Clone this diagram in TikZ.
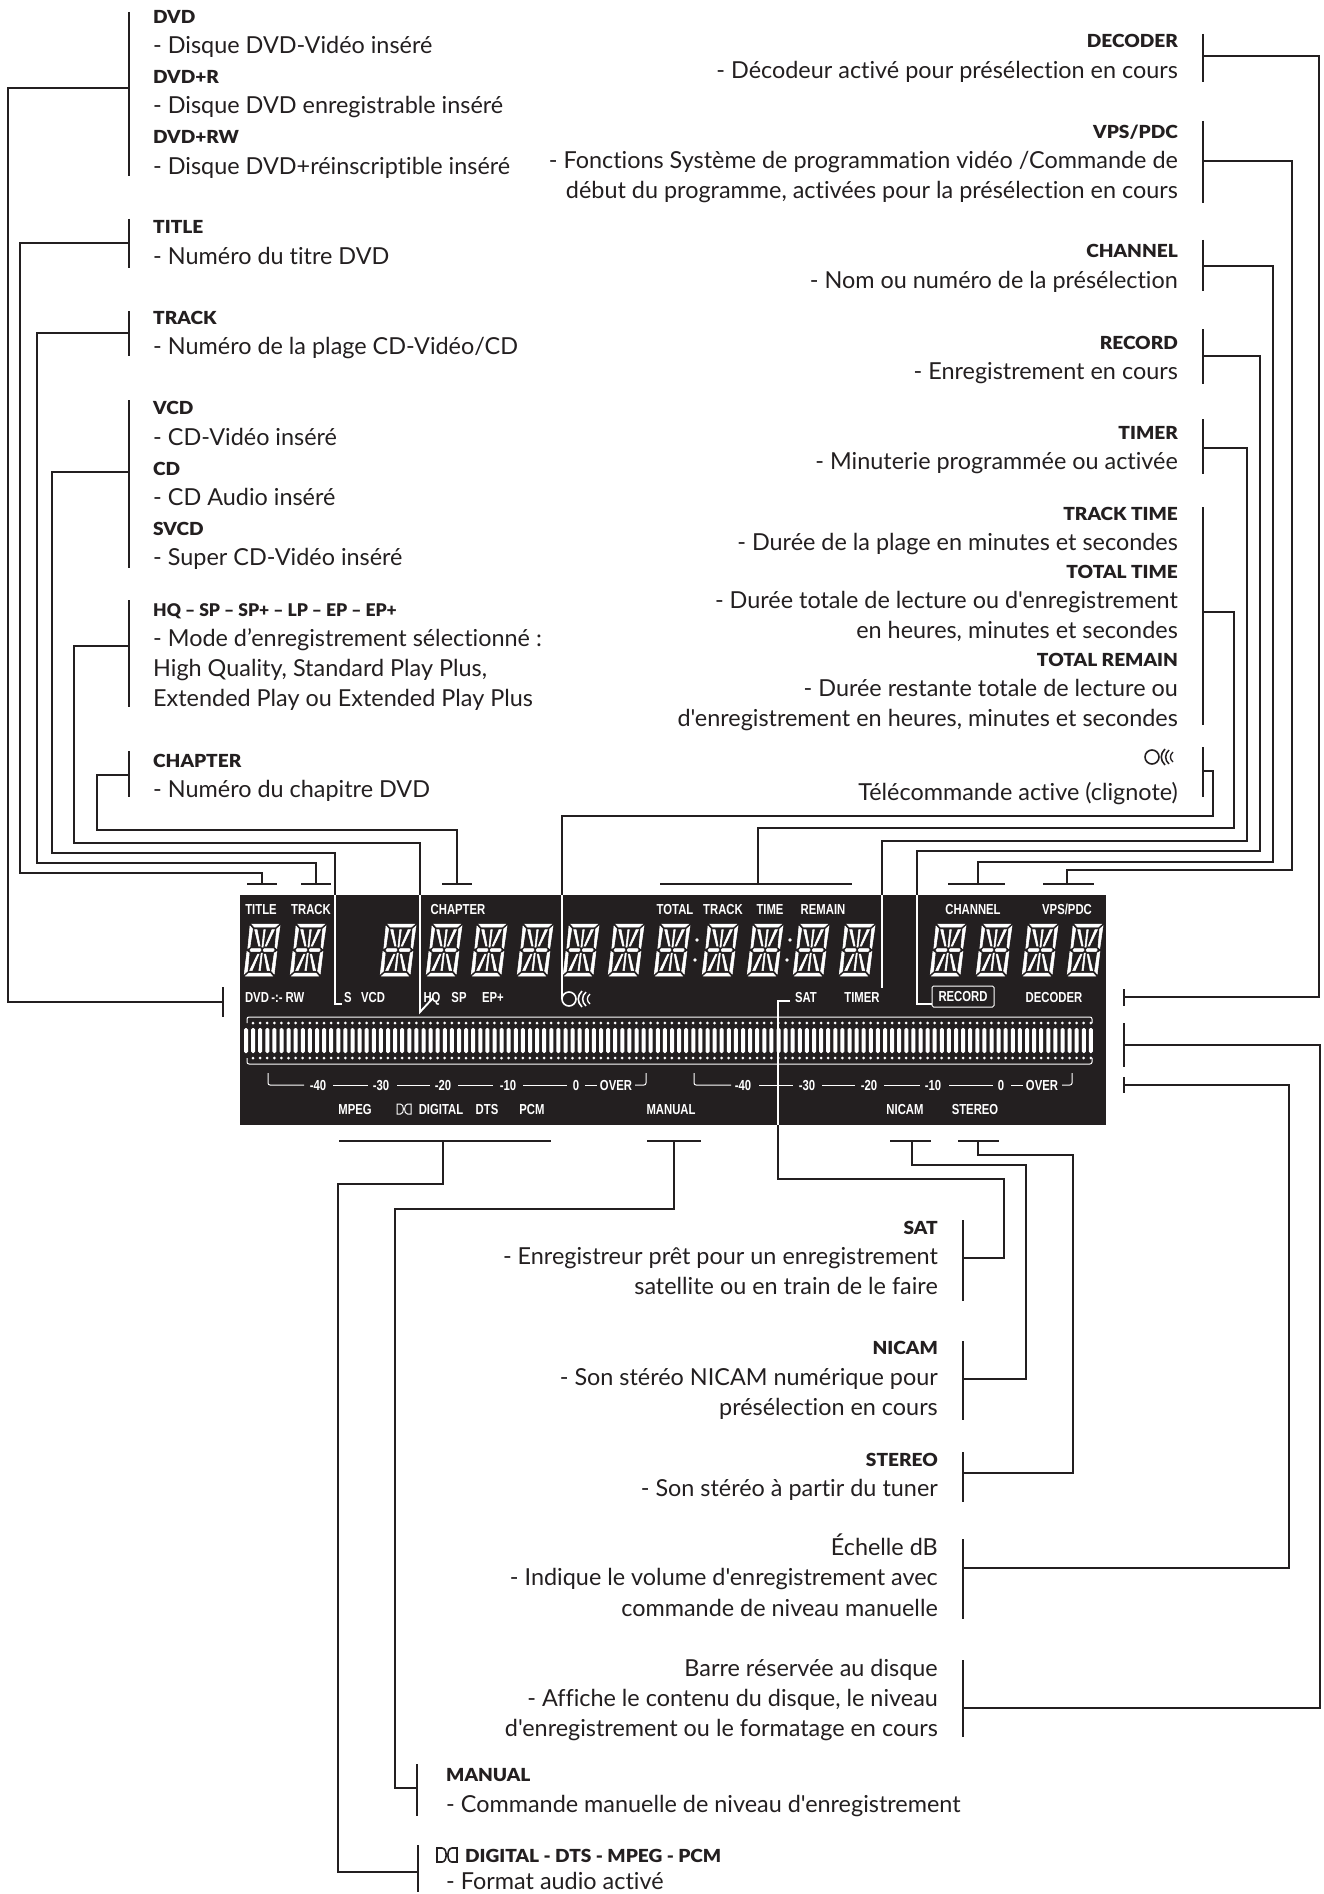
\documentclass[tikz,border=0pt]{standalone}
\usepackage{fontspec}
\newfontfamily\bodyf[Ligatures=NoCommon]{Lato}
\newfontfamily\headf[FakeStretch=1.06,Ligatures=NoCommon]{Lato Black}
\newfontfamily\headg[Ligatures=NoCommon]{Lato Black}
\newfontfamily\panelf[FakeStretch=0.78]{Liberation Sans Bold}
\definecolor{ink}{HTML}{231F20}
\tikzset{
  conn/.style={draw=ink,line width=1.9pt,line cap=butt,line join=miter},
  wconn/.style={draw=white,line width=1.9pt,line join=miter},
  lh/.style={anchor=base west,inner sep=0pt,text=ink,font=\headf\fontsize{18}{20}\selectfont},
  lb/.style={anchor=base west,inner sep=0pt,text=ink,font=\bodyf\fontsize{23.4}{25}\selectfont},
  rh/.style={anchor=base east,inner sep=0pt,text=ink,font=\headf\fontsize{18}{20}\selectfont},
  rb/.style={anchor=base east,inner sep=0pt,text=ink,font=\bodyf\fontsize{23.4}{25}\selectfont},
  pl/.style={anchor=center,inner sep=0pt,text=white,text height=10.4pt,text depth=0pt,font=\panelf\fontsize{14.5}{15}\selectfont},
  seg/.style={fill=white,draw=white,line width=0.5pt},
}
\newcommand\segdigit[1]{%
\begin{scope}[shift={(#1,976)},y=1pt,cm={1,0,0.12,1,(0,0)}]
\filldraw[seg] (1.5,52)--(28.5,52)--(25.5,49)--(4.5,49)--cycle;
\filldraw[seg] (1.5,0)--(28.5,0)--(25.5,3)--(4.5,3)--cycle;
\filldraw[seg] (0,50)--(3,47)--(2.5,29)--(0.5,27.5)--cycle;
\filldraw[seg] (0,24.5)--(2.5,23)--(3,5)--(0,2)--cycle;
\filldraw[seg] (30,50)--(27,47)--(27.5,29)--(29.5,27.5)--cycle;
\filldraw[seg] (30,24.5)--(27.5,23)--(27,5)--(30,2)--cycle;
\filldraw[seg] (4,27.5)--(13,27.5)--(14,26)--(13,24.5)--(4,24.5)--(2.8,26)--cycle;
\filldraw[seg] (17,27.5)--(26,27.5)--(27.2,26)--(26,24.5)--(17,24.5)--(16,26)--cycle;
\filldraw[seg] (14.2,46.5)--(15.8,46.5)--(15.6,29)--(14.4,29)--cycle;
\filldraw[seg] (14.4,23)--(15.6,23)--(15.8,5.5)--(14.2,5.5)--cycle;
\filldraw[seg] (5,46.5)--(7.5,46.5)--(12.5,30)--(11,30)--cycle;
\filldraw[seg] (25,46.5)--(22.5,46.5)--(17.5,30)--(19,30)--cycle;
\filldraw[seg] (5,5.5)--(7.5,5.5)--(12.5,22)--(11,22)--cycle;
\filldraw[seg] (25,5.5)--(22.5,5.5)--(17.5,22)--(19,22)--cycle;
\end{scope}}
% remote icon: centre x,y, colour
\newcommand\remoteicon[3]{%
\begin{scope}[shift={(#1,#2)}]
\draw[#3,line width=1.6pt] (0,0) circle (7);
\draw[#3,line width=1.6pt] (13,-8) .. controls (8,-3) and (8,3) .. (13,8);
\draw[#3,line width=1.5pt] (17,-7) .. controls (12.5,-3) and (12.5,3) .. (17,7);
\draw[#3,line width=1.3pt] (21,-5) .. controls (17.5,-2) and (17.5,2) .. (21,5);
\end{scope}}
% double-D mark: left x, top y, width, height, colour, line width
\newcommand\ddmark[6]{%
\begin{scope}[shift={(#1,#2)},x=#3pt/20,y=-#4pt/14]
\draw[#5,line width=#6] (0,0)--(5,0) .. controls (10.5,0) and (10.5,14) .. (5,14)--(0,14)--cycle;
\draw[#5,line width=#6] (20,0)--(15,0) .. controls (9.5,0) and (9.5,14) .. (15,14)--(20,14)--cycle;
\end{scope}}
\begin{document}
\begin{tikzpicture}[x=1pt,y=-1pt]
\useasboundingbox (0,0) rectangle (1323,1894);
\fill[white] (0,0) rectangle (1323,1894);
% panel
\fill[ink] (240,895) rectangle (1106,1125);
\foreach \d in {244,290,380,426,471,517,563,608,654,702,747,793,839,930,976,1022,1067} {\segdigit{\d}}
\foreach \p/\q in {697/940,695/960,790/940,787/960} {\fill[white] (\p,\q) circle (1.8);}
% bar graph
\foreach \i in {0,...,119} {
  \pgfmathsetmacro\bx{246+\i*7.1}
  \fill[white,rounded corners=1.5pt] (\bx-2,1028) rectangle (\bx+2,1053);
  \ifnum\i<119
  \fill[white] (\bx+7,1023) circle (1.5);
  \fill[white] (\bx+7,1058) circle (1.5);
  \fi
}
\draw[white,line width=1pt,rounded corners=2pt] (247,1023)--(247,1017)--(1092,1017)--(1092,1023);
\draw[white,line width=1pt,rounded corners=2pt] (247,1058)--(247,1064)--(1092,1064)--(1092,1058);
% scales
\draw[white,line width=1pt,rounded corners=2pt] (268,1073)--(268,1085)--(304,1085);
\foreach \a/\b in {333/368,397/430,458/493,523/567,585/597} {\draw[white,line width=1pt] (\a,1085)--(\b,1085);}
\draw[white,line width=1pt,rounded corners=2pt] (635,1085)--(646,1085)--(646,1073);
\draw[white,line width=1pt,rounded corners=2pt] (694,1073)--(694,1085)--(731,1085);
\foreach \a/\b in {759/793,822/855,884/920,949/993,1011/1023} {\draw[white,line width=1pt] (\a,1085)--(\b,1085);}
\draw[white,line width=1pt,rounded corners=2pt] (1062,1085)--(1072,1085)--(1072,1073);
\foreach \n/\x/\t in {a/318/-40,b/381/-30,c/443/-20,d/508/-10,e/576/0,f/616/OVER,g/743/-40,h/807/-30,i/869/-20,j/933/-10,k/1001/0,l/1042/OVER} {
  \node[pl] (s\n) at (\x,1085) {\t};}
% panel labels
\node[pl] (pTitle) at (261,909) {TITLE};
\node[pl] (pTrack) at (311,909) {TRACK};
\node[pl] (pChapter) at (458,909) {CHAPTER};
\node[pl] (pTotal) at (675,909) {TOTAL};
\node[pl] (pTrack2) at (723,909) {TRACK};
\node[pl] (pTime) at (770,909) {TIME};
\node[pl] (pRemain) at (823,909) {REMAIN};
\node[pl] (pChannel) at (973,909) {CHANNEL};
\node[pl] (pVps) at (1067,909) {VPS/PDC};
\node[pl] (pDvd) at (257,997) {DVD};
\node[pl] (pPlus) at (277,997) {-:-};
\node[pl] (pRw) at (295,997) {RW};
\node[pl] (pS) at (348,997) {S};
\node[pl] (pVcd) at (373,997) {VCD};
\node[pl] (pHq) at (432,997) {HQ};
\node[pl] (pSp) at (459,997) {SP};
\node[pl] (pEp) at (493,997) {EP+};
\node[pl] (pSat) at (806,997) {SAT};
\node[pl] (pTimer) at (862,997) {TIMER};
\node[pl,draw=white,line width=1pt,rounded corners=1.5pt,minimum width=62pt,minimum height=21pt] (pRecord) at (963,996.5) {RECORD};
\node[pl] (pDecoder) at (1054,997) {DECODER};
\node[pl] (pMpeg) at (355,1109) {MPEG};
\ddmark{397}{1104}{14}{10}{white}{1pt}
\node[pl] (pDigital) at (441,1109) {DIGITAL};
\node[pl] (pDts) at (487,1109) {DTS};
\node[pl] (pPcm) at (532,1109) {PCM};
\node[pl] (pManual) at (671,1109) {MANUAL};
\node[pl] (pNicam) at (905,1109) {NICAM};
\node[pl] (pStereo) at (975,1109) {STEREO};
\remoteicon{569}{999}{white}
% left texts
\node[lh] (t1) at (153,24) {DVD};
\node[lb] (t2) at (153,54) {- Disque DVD-Vidéo inséré};
\node[lh] (t3) at (153,84) {DVD+R};
\node[lb] (t4) at (153,114) {- Disque DVD enregistrable inséré};
\node[lh] (t5) at (153,144) {DVD+RW};
\node[lb] (t6) at (153,175) {- Disque DVD+réinscriptible inséré};
\node[lh] (t7) at (153,234) {TITLE};
\node[lb] (t8) at (153,265) {- Numéro du titre DVD};
\node[lh] (t9) at (153,324) {TRACK};
\node[lb] (t10) at (153,354) {- Numéro de la plage CD-Vidéo/CD};
\node[lh] (t11) at (153,414) {VCD};
\node[lb] (t12) at (153,445) {- CD-Vidéo inséré};
\node[lh] (t13) at (153,475) {CD};
\node[lb] (t14) at (153,505) {- CD Audio inséré};
\node[lh] (t15) at (153,535) {SVCD};
\node[lb] (t16) at (153,565) {- Super CD-Vidéo inséré};
\node[lh,font=\headg\fontsize{17.5}{20}\selectfont] (t17) at (153,616) {HQ – SP – SP+ – LP – EP – EP+};
\node[lb] (t18) at (153,646) {- Mode d’enregistrement sélectionné :};
\node[lb] (t19) at (153,676) {High Quality, Standard Play Plus,};
\node[lb] (t20) at (153,706) {Extended Play ou Extended Play Plus};
\node[lh] (t21) at (153,767) {CHAPTER};
\node[lb] (t22) at (153,797) {- Numéro du chapitre DVD};
% right texts
\node[rh] (r1) at (1178,48) {DECODER};
\node[rb] (r2) at (1178,79) {- Décodeur activé pour présélection en cours};
\node[rh] (r3) at (1178,139) {VPS/PDC};
\node[rb] (r4) at (1178,169) {- Fonctions Système de programmation vidéo /Commande de};
\node[rb] (r5) at (1178,199) {début du programme, activées pour la présélection en cours};
\node[rh] (r6) at (1178,258) {CHANNEL};
\node[rb] (r7) at (1178,288) {- Nom ou numéro de la présélection};
\node[rh] (r8) at (1178,349) {RECORD};
\node[rb] (r9) at (1178,379) {- Enregistrement en cours};
\node[rh] (r10) at (1178,439) {TIMER};
\node[rb] (r11) at (1178,469) {- Minuterie programmée ou activée};
\node[rh] (r12) at (1178,520) {TRACK TIME};
\node[rb] (r13) at (1178,550) {- Durée de la plage en minutes et secondes};
\node[rh] (r14) at (1178,578) {TOTAL TIME};
\node[rb] (r15) at (1178,608) {- Durée totale de lecture ou d'enregistrement};
\node[rb] (r16) at (1178,638) {en heures, minutes et secondes};
\node[rh] (r17) at (1178,666) {TOTAL REMAIN};
\node[rb] (r18) at (1178,696) {- Durée restante totale de lecture ou};
\node[rb] (r19) at (1178,726) {d'enregistrement en heures, minutes et secondes};
\remoteicon{1152}{757}{ink}
\node[rb] (r20) at (1178,800) {Télécommande active (clignote)};
% lower texts
\node[rh] (b1) at (938,1234) {SAT};
\node[rb] (b2) at (938,1264) {- Enregistreur prêt pour un enregistrement};
\node[rb] (b3) at (938,1294) {satellite ou en train de le faire};
\node[rh] (b4) at (938,1354) {NICAM};
\node[rb] (b5) at (938,1385) {- Son stéréo NICAM numérique pour};
\node[rb] (b6) at (938,1415) {présélection en cours};
\node[rh] (b7) at (938,1466) {STEREO};
\node[rb] (b8) at (938,1496) {- Son stéréo à partir du tuner};
\node[rb] (b9) at (938,1555) {Échelle dB};
\node[rb] (b10) at (938,1585) {- Indique le volume d'enregistrement avec};
\node[rb] (b11) at (938,1616) {commande de niveau manuelle};
\node[rb] (b12) at (938,1676) {Barre réservée au disque};
\node[rb] (b13) at (938,1706) {- Affiche le contenu du disque, le niveau};
\node[rb] (b14) at (938,1736) {d'enregistrement ou le formatage en cours};
\node[lh] (b15) at (446,1781) {MANUAL};
\node[lb] (b16) at (446,1812) {- Commande manuelle de niveau d'enregistrement};
\ddmark{437}{1848}{20}{14}{ink}{1.6pt}
\node[lh] (b17) at (465,1862) {DIGITAL - DTS - MPEG - PCM};
\node[lb] (b18) at (446,1889) {- Format audio activé};
% bars
\foreach \n/\x/\a/\b in {DVD/129/12/176,TITLE/129/219/268,TRACK/129/311/356,VCD/129/400/568,HQ/129/600/707,CHAP/129/751/797,
  DEC/1203/34/82,VPS/1203/121/203,CHAN/1203/240/291,REC/1203/329/384,TIM/1203/419/474,TT/1203/507/725,REM/1203/747/797,
  SAT/963/1220/1301,NIC/963/1341/1420,STE/963/1452/1502,DB/963/1539/1619,BAR/963/1660/1737,
  MAN/417/1764/1816,FMT/418/1845/1892} {
  \draw[conn] (\x,\a)--(\x,\b);
}
% anchor points of the connectors
\coordinate (aDVD) at (129,88);
\coordinate (aTITLE) at (129,243);
\coordinate (aTRACK) at (129,333);
\coordinate (aVCD) at (129,472);
\coordinate (aHQ) at (129,646);
\coordinate (aCHAP) at (129,775);
\coordinate (aDEC) at (1203,56);
\coordinate (aVPS) at (1203,161);
\coordinate (aCHAN) at (1203,266);
\coordinate (aREC) at (1203,356);
\coordinate (aTIM) at (1203,448);
\coordinate (aTT) at (1203,612);
\coordinate (aREM) at (1203,771);
\coordinate (aSAT) at (963,1258);
\coordinate (aNIC) at (963,1379);
\coordinate (aSTE) at (963,1473);
\coordinate (aDB) at (963,1568);
\coordinate (aBAR) at (963,1708);
\coordinate (aMAN) at (417,1788);
\coordinate (aFMT) at (418,1872);
% ticks
\coordinate (kDVD) at (223,1002);
\coordinate (kDEC) at (1124,997);
\coordinate (kBAR) at (1124,1045);
\coordinate (kDB) at (1124,1085);
\draw[conn] (223,987)--(223,1017);
\draw[conn] (1124,989)--(1124,1006);
\draw[conn] (1124,1023)--(1124,1067);
\draw[conn] (1124,1077)--(1124,1093);
\foreach \n/\a/\b/\c in {TITLE/247/277/262,TRACK/301/331/316,CHAP/442/472/457,TT/660/852/758,CHAN/948/1005/978,VPS/1043/1094/1067} {
  \draw[conn] (\a,884)--(\b,884);
  \coordinate (u\n) at (\c,884);
}
\foreach \n/\a/\b/\c in {FMT/339/551/443,MAN/647/701/674,NIC/890/931/912,STE/958/999/978} {
  \draw[conn] (\a,1141)--(\b,1141);
  \coordinate (u\n) at (\c,1141);
}
% connectors
\draw[conn] (aDVD)--(8,88)--(8,1002)--(kDVD);
\draw[conn] (aTITLE)--(20,243)--(20,873)--(262,873)--(uTITLE);
\draw[conn] (aTRACK)--(37,333)--(37,863)--(316,863)--(uTRACK);
\draw[conn] (aVCD)--(52,472)--(52,853)--(335,853)--(335,895);
\draw[wconn] (335,895)--(335,1004)--(342,1004);
\draw[conn] (aHQ)--(74,646)--(74,843)--(420,843)--(420,895);
\draw[wconn] (420,895)--(420,1012)--(433,998);
\draw[conn] (aCHAP)--(97,775)--(97,830)--(457,830)--(uCHAP);
\draw[conn] (aREM)--(1213,771)--(1213,816)--(562,816)--(562,895);
\draw[wconn] (562,895)--(562,999);
\draw[conn] (aTT)--(1234,612)--(1234,828)--(758,828)--(uTT);
\draw[conn] (aTIM)--(1247,448)--(1247,841)--(882,841)--(882,895);
\draw[wconn] (882,895)--(882,988);
\draw[conn] (aREC)--(1260,356)--(1260,851)--(917,851)--(917,895);
\draw[wconn] (917,895)--(917,1004)--(932,1004);
\draw[conn] (aCHAN)--(1273,266)--(1273,862)--(978,862)--(uCHAN);
\draw[conn] (aVPS)--(1292,161)--(1292,870)--(1067,870)--(uVPS);
\draw[conn] (aDEC)--(1319,56)--(1319,997)--(kDEC);
\draw[conn] (kBAR)--(1320,1045)--(1320,1708)--(aBAR);
\draw[conn] (kDB)--(1289,1085)--(1289,1568)--(aDB);
\draw[wconn] (790,1001)--(778,1001)--(778,1125);
\draw[conn] (778,1125)--(778,1179)--(1004,1179)--(1004,1258)--(aSAT);
\draw[conn] (uNIC)--(912,1165)--(1026,1165)--(1026,1379)--(aNIC);
\draw[conn] (uSTE)--(978,1155)--(1073,1155)--(1073,1473)--(aSTE);
\draw[conn] (uFMT)--(443,1184)--(338,1184)--(338,1872)--(aFMT);
\draw[conn] (uMAN)--(674,1209)--(395,1209)--(395,1788)--(aMAN);
\end{tikzpicture}
\end{document}
